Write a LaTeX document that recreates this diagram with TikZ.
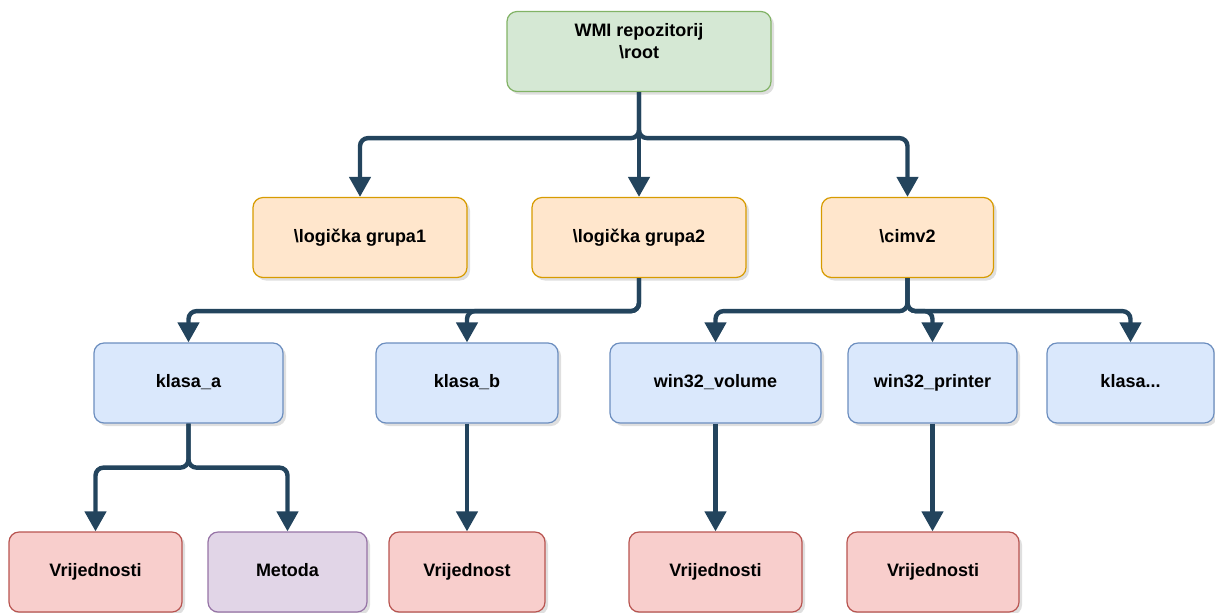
\documentclass[tikz,border=0pt]{standalone}
\usepackage{fontspec}
\setmainfont{Liberation Sans}
\usetikzlibrary{arrows.meta,shadows}
\definecolor{gfill}{HTML}{D5E8D4}\definecolor{gline}{HTML}{82B366}
\definecolor{ofill}{HTML}{FFE6CC}\definecolor{oline}{HTML}{D79B00}
\definecolor{bfill}{HTML}{DAE8FC}\definecolor{bline}{HTML}{6C8EBF}
\definecolor{rfill}{HTML}{F8CECC}\definecolor{rline}{HTML}{B85450}
\definecolor{pfill}{HTML}{E1D5E7}\definecolor{pline}{HTML}{9673A6}
\definecolor{arrowc}{HTML}{23445D}
\tikzset{
  box/.style={draw, rounded corners=5pt, inner sep=0pt, minimum height=40pt,
    line width=0.6pt, align=center,
    font=\bfseries\fontsize{9}{10.8}\selectfont,
    drop shadow={shadow xshift=1.5pt,shadow yshift=-1.5pt,opacity=0.25}},
  oneline/.style={text height=6.6pt, text depth=2pt},
  rootbox/.style={box, fill=gfill, draw=gline},
  grpbox/.style={box, oneline, fill=ofill, draw=oline},
  clsbox/.style={box, oneline, fill=bfill, draw=bline},
  valbox/.style={box, oneline, fill=rfill, draw=rline},
  metbox/.style={box, oneline, fill=pfill, draw=pline},
  conn/.style={draw=arrowc, line width=2.2pt, rounded corners=4pt,
    -{Triangle[length=10pt,width=10.5pt]}}
}
\begin{document}
\begin{tikzpicture}[x=0.5pt,y=-0.5pt]
\useasboundingbox (0,0) rectangle (1215,612);
% level 1
\node[rootbox, minimum width=132pt] (root) at (639,51.5) {WMI repozitorij\\\textbackslash root\\\mbox{}};
% level 2
\node[grpbox, minimum width=107pt] (g1) at (360,237.5) {\textbackslash logička grupa1};
\node[grpbox, minimum width=107pt] (g2) at (639,237.5) {\textbackslash logička grupa2};
\node[grpbox, minimum width=86pt] (cim) at (907.5,237.5) {\textbackslash cimv2};
% level 3
\node[clsbox, minimum width=94.5pt] (ka) at (188.5,383) {klasa\_a};
\node[clsbox, minimum width=91pt] (kb) at (467,383) {klasa\_b};
\node[clsbox, minimum width=105.5pt] (vol) at (715.5,383) {win32\_volume};
\node[clsbox, minimum width=84.5pt] (prn) at (932.5,383) {win32\_printer};
\node[clsbox, minimum width=83.5pt] (kx) at (1130.5,383) {klasa...};
% level 4
\node[valbox, minimum width=86.5pt] (v1) at (95.5,572) {Vrijednosti};
\node[metbox, minimum width=79.5pt] (met) at (287.5,572) {Metoda};
\node[valbox, minimum width=78pt] (v2) at (467,572) {Vrijednost};
\node[valbox, minimum width=86.5pt] (v3) at (715.5,572) {Vrijednosti};
\node[valbox, minimum width=86pt] (v4) at (933,572) {Vrijednosti};
% connectors
\draw[conn] (root.south) -- ++(0,46) -| (g1.north);
\draw[conn] (root.south) -- (g2.north);
\draw[conn] (root.south) -- ++(0,46) -| (cim.north);
\draw[conn] (g2.south) -- ++(0,33) -| (ka.north);
\draw[conn] (g2.south) -- ++(0,33) -| (kb.north);
\draw[conn] (cim.south) -- ++(0,33) -| (vol.north);
\draw[conn] (cim.south) -- ++(0,33) -| (prn.north);
\draw[conn] (cim.south) -- ++(0,33) -| (kx.north);
\draw[conn] (ka.south) -- ++(0,44) -| (v1.north);
\draw[conn] (ka.south) -- ++(0,44) -| (met.north);
\draw[conn] (kb.south) -- (kb.south |- v2.north);
\draw[conn] (vol.south) -- (vol.south |- v3.north);
\draw[conn] (prn.south) -- (prn.south |- v4.north);
\end{tikzpicture}
\end{document}
